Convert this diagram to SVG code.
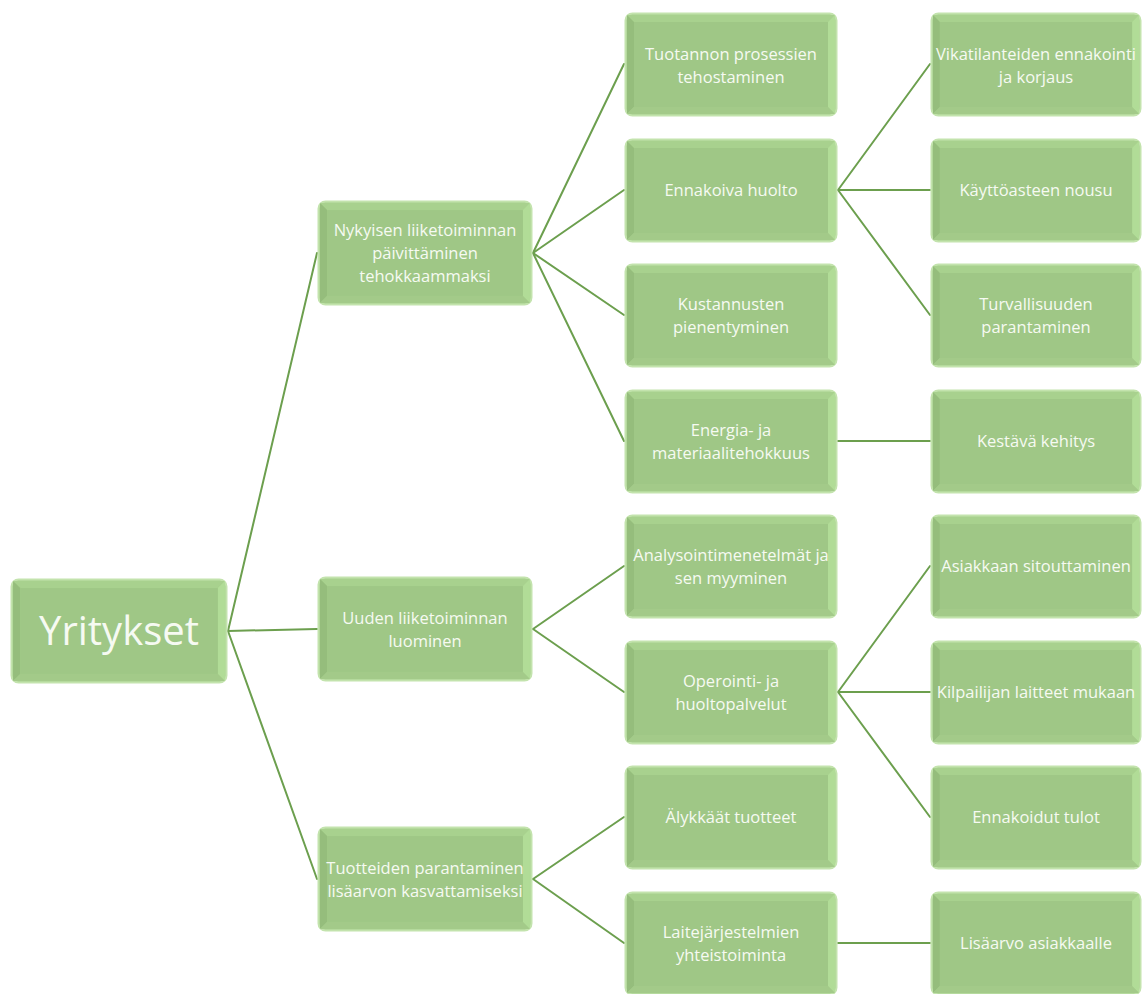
<svg xmlns="http://www.w3.org/2000/svg" xmlns:xlink="http://www.w3.org/1999/xlink" width="1143" height="994" viewBox="0 0 1143 994">
<style>
.t{font-family:"Open Sans","Noto Sans",sans-serif;font-size:16.5px;fill:#f6faf2;text-anchor:middle}
.r{font-family:"Open Sans","Noto Sans",sans-serif;font-size:40px;fill:#f6faf2;text-anchor:middle}
.c line{stroke:#6c9f4e;stroke-width:2;stroke-linecap:round}
</style>
<defs>
<symbol id="box" viewBox="0 0 214 105" preserveAspectRatio="none">
<rect x="1.5" y="1.5" width="211" height="102" rx="7" fill="#a6d08c" stroke="#c3e3ad" stroke-width="2"/>
<polygon points="3,3 211,3 204,10 10,10" fill="#a8d18e"/>
<polygon points="3,3 10,10 10,95 3,102" fill="#95bd7c"/>
<polygon points="211,3 211,102 204,95 204,10" fill="#b1dc97"/>
<polygon points="3,102 10,95 204,95 211,102" fill="#a3ca89"/>
<rect x="10" y="10" width="194" height="85" fill="#9fc786"/>
</symbol>
</defs>
<rect width="1143" height="994" fill="#ffffff"/>
<g id="connectors" class="c">
<line x1="228" y1="631" x2="317" y2="253"/>
<line x1="228" y1="631" x2="317" y2="629"/>
<line x1="228" y1="631" x2="317" y2="879"/>
<line x1="533" y1="253" x2="624" y2="64"/>
<line x1="533" y1="253" x2="624" y2="190"/>
<line x1="533" y1="253" x2="624" y2="315"/>
<line x1="533" y1="253" x2="624" y2="441"/>
<line x1="533" y1="629" x2="624" y2="566"/>
<line x1="533" y1="629" x2="624" y2="692"/>
<line x1="533" y1="879" x2="624" y2="817"/>
<line x1="533" y1="879" x2="624" y2="943"/>
<line x1="838" y1="190" x2="930" y2="64"/>
<line x1="838" y1="190" x2="930" y2="190"/>
<line x1="838" y1="190" x2="930" y2="315"/>
<line x1="838" y1="441" x2="930" y2="441"/>
<line x1="838" y1="692" x2="930" y2="566"/>
<line x1="838" y1="692" x2="930" y2="692"/>
<line x1="838" y1="692" x2="930" y2="817"/>
<line x1="838" y1="943" x2="930" y2="943"/>
</g>
<g id="n-yritykset"><use xlink:href="#box" x="10" y="578" width="218" height="106"/><text class="r" x="119" y="645">Yritykset</text></g>
<g id="n-nykyisen"><use xlink:href="#box" x="317" y="200" width="216" height="106"/><text class="t" x="425" y="236">Nykyisen liiketoiminnan</text><text class="t" x="425" y="259">päivittäminen</text><text class="t" x="425" y="282">tehokkaammaksi</text></g>
<g id="n-uuden"><use xlink:href="#box" x="317" y="576" width="216" height="106"/><text class="t" x="425" y="624">Uuden liiketoiminnan</text><text class="t" x="425" y="647">luominen</text></g>
<g id="n-tuotteiden"><use xlink:href="#box" x="317" y="826" width="216" height="106"/><text class="t" x="425" y="874">Tuotteiden parantaminen</text><text class="t" x="425" y="897">lisäarvon kasvattamiseksi</text></g>
<g id="n-tuotannon"><use xlink:href="#box" x="624" y="12" width="214" height="105"/><text class="t" x="731" y="60">Tuotannon prosessien</text><text class="t" x="731" y="83">tehostaminen</text></g>
<g id="n-ennakoiva"><use xlink:href="#box" x="624" y="138" width="214" height="105"/><text class="t" x="731" y="196">Ennakoiva huolto</text></g>
<g id="n-kustannusten"><use xlink:href="#box" x="624" y="263" width="214" height="105"/><text class="t" x="731" y="310">Kustannusten</text><text class="t" x="731" y="333">pienentyminen</text></g>
<g id="n-energia"><use xlink:href="#box" x="624" y="389" width="214" height="105"/><text class="t" x="731" y="436">Energia- ja</text><text class="t" x="731" y="459">materiaalitehokkuus</text></g>
<g id="n-analysointi"><use xlink:href="#box" x="624" y="514" width="214" height="105"/><text class="t" x="731" y="561">Analysointimenetelmät ja</text><text class="t" x="731" y="584">sen myyminen</text></g>
<g id="n-operointi"><use xlink:href="#box" x="624" y="640" width="214" height="105"/><text class="t" x="731" y="687">Operointi- ja</text><text class="t" x="731" y="710">huoltopalvelut</text></g>
<g id="n-alykkaat"><use xlink:href="#box" x="624" y="765" width="214" height="105"/><text class="t" x="731" y="823">Älykkäät tuotteet</text></g>
<g id="n-laitejarjestelmien"><use xlink:href="#box" x="624" y="891" width="214" height="105"/><text class="t" x="731" y="938">Laitejärjestelmien</text><text class="t" x="731" y="961">yhteistoiminta</text></g>
<g id="n-vikatilanteiden"><use xlink:href="#box" x="930" y="12" width="212" height="105"/><text class="t" x="1036" y="60">Vikatilanteiden ennakointi</text><text class="t" x="1036" y="83">ja korjaus</text></g>
<g id="n-kayttoasteen"><use xlink:href="#box" x="930" y="138" width="212" height="105"/><text class="t" x="1036" y="196">Käyttöasteen nousu</text></g>
<g id="n-turvallisuuden"><use xlink:href="#box" x="930" y="263" width="212" height="105"/><text class="t" x="1036" y="310">Turvallisuuden</text><text class="t" x="1036" y="333">parantaminen</text></g>
<g id="n-kestava"><use xlink:href="#box" x="930" y="389" width="212" height="105"/><text class="t" x="1036" y="447">Kestävä kehitys</text></g>
<g id="n-asiakkaan"><use xlink:href="#box" x="930" y="514" width="212" height="105"/><text class="t" x="1036" y="572">Asiakkaan sitouttaminen</text></g>
<g id="n-kilpailijan"><use xlink:href="#box" x="930" y="640" width="212" height="105"/><text class="t" x="1036" y="698">Kilpailijan laitteet mukaan</text></g>
<g id="n-ennakoidut"><use xlink:href="#box" x="930" y="765" width="212" height="105"/><text class="t" x="1036" y="823">Ennakoidut tulot</text></g>
<g id="n-lisaarvo"><use xlink:href="#box" x="930" y="891" width="212" height="105"/><text class="t" x="1036" y="949">Lisäarvo asiakkaalle</text></g>
</svg>
